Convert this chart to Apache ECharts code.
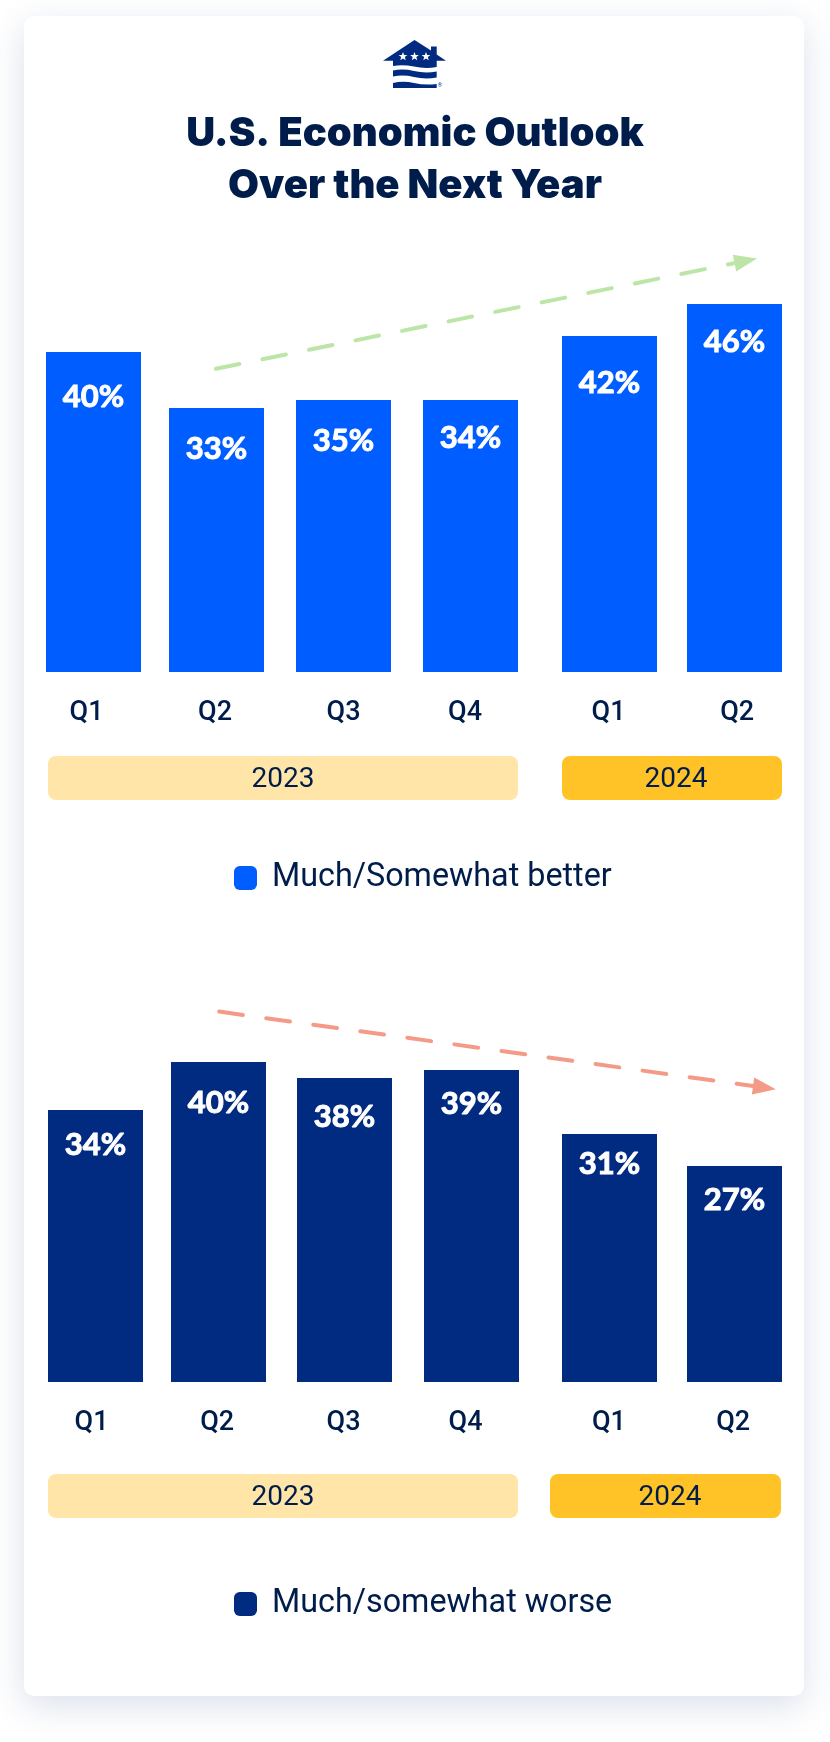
<!DOCTYPE html>
<html>
<head>
    <meta charset="utf-8">
    <title>U.S. Economic Outlook</title>
    <script src="https://cdn.jsdelivr.net/npm/echarts@6/dist/echarts.min.js"></script>
    <style>
        html, body { margin: 0; padding: 0; background: #fff; }
    </style>
</head>
<body>
    <div id="main" style="width: 830px;height:1742px;"></div>
    <script type="text/javascript">

// data
var quarters = ['Q1', 'Q2', 'Q3', 'Q4', 'Q1', 'Q2'];
var betterName = 'Much/Somewhat better';
var worseName = 'Much/somewhat worse';
// the Q3 2023 bar is drawn at 34 in the source although it is labelled 35%
var betterBars = [40, 33, 34, 34, 42, 46];
var betterLabels = ['40%', '33%', '35%', '34%', '42%', '46%'];
var worseBars = [34, 40, 38, 39, 31, 27];
var worseLabels = ['34%', '40%', '38%', '39%', '31%', '27%'];
var betterTrendX = [0.96, 5.1];
var betterTrendY = [37.9, 51.4];
var worseTrendX = [0.97, 5.23];
var worseTrendY = [46.3, 36.8];

// layout
var BAR_W = 95;
var SCALE = 8; // px per point, both charts
var INK = '#001c4a';
var LABEL_FONT = 'Roboto';
var HEAD_FONT = 'Inter';
var VALUE_FONT = 'Lato';

var panels = [
    {
        name: betterName, bars: betterBars, labels: betterLabels, color: '#005dff',
        base: 672, lefts: [46, 169, 296, 423, 562, 687],
        drops: [44, 40, 40, 37, 46, 37],
        tickShift: [-7, -1.5, 0, -5.5, -1, 2.7],
        trendX: betterTrendX, trendY: betterTrendY, trendColor: '#bde5a8', trendLeft: 29,
        pills: [
            { x: 48, w: 470, label: '2023', textX: 283, fill: '#ffe6a8' },
            { x: 562, w: 220, label: '2024', textX: 676, fill: '#ffc328' }
        ],
        pillTop: 756, legendTop: 862
    },
    {
        name: worseName, bars: worseBars, labels: worseLabels, color: '#002b80',
        base: 1382, lefts: [48, 171, 297, 424, 562, 687],
        drops: [34, 40, 38, 33, 29, 33],
        tickShift: [-4, -1.3, -1, -6, -0.6, -1.3],
        trendX: worseTrendX, trendY: worseTrendY, trendColor: '#f49b87', trendLeft: 31,
        pills: [
            { x: 48, w: 470, label: '2023', textX: 283, fill: '#ffe6a8' },
            { x: 550, w: 231, label: '2024', textX: 670, fill: '#ffc328' }
        ],
        pillTop: 1474, legendTop: 1588
    }
];

// house logo
echarts.graphic.registerShape('logoHouse', echarts.graphic.extendPath(
    'M414.5 40 L431 50.5 L431 46.5 L436.7 46.5 L436.7 54.5 L446 60.7 L436.7 60.7 L436.7 67 ' +
    'Q425 69 414 66.5 Q403 64.5 393 66 L393 60.7 L383 60.7 Z ' +
    'M393 70.5 Q403 68.5 414 71 Q425 73.5 436.7 71.5 L436.7 77.5 Q425 79.5 414 77 Q403 74.5 393 76.5 Z ' +
    'M393 83 Q403 80.5 414 83 Q425 85.5 436.7 84 L436.7 88 L393 88 Z'
));

var grids = [], xAxes = [], yAxes = [], seriesList = [], legends = [];
var graphics = [
    {
        type: 'rect', z: -1,
        shape: { x: 24, y: 16, width: 780, height: 1680, r: 10 },
        style: { fill: '#fff', shadowBlur: 34, shadowOffsetY: 10, shadowColor: 'rgba(30,60,130,0.16)' }
    },
    { type: 'logoHouse', style: { fill: '#002b80' } }
];

[403, 414.5, 426].forEach(function (x) {
    graphics.push({
        type: 'polygon',
        shape: { points: starPoints(x, 56.5, 4.6) },
        style: { fill: '#fff' }
    });
});
graphics.push({
    type: 'text', x: 438, y: 83.5,
    style: { text: '®', fontSize: 5, fill: '#002b80', fontFamily: LABEL_FONT }
});

function starPoints(cx, cy, r) {
    var pts = [];
    for (var i = 0; i < 10; i++) {
        var rad = i % 2 ? r * 0.42 : r;
        var a = -Math.PI / 2 + i * Math.PI / 5;
        pts.push([cx + rad * Math.cos(a), cy + rad * Math.sin(a)]);
    }
    return pts;
}

panels.forEach(function (p) {
    var maxVal = Math.max.apply(null, p.bars);

    // one narrow grid per bar, the quarters are not evenly spaced in the source
    p.bars.forEach(function (v, i) {
        var idx = grids.length;
        var shift = p.tickShift[i];
        grids.push({
            left: p.lefts[i], width: BAR_W,
            top: p.base - maxVal * SCALE, height: maxVal * SCALE
        });
        xAxes.push({
            type: 'category', gridIndex: idx, data: [quarters[i]],
            axisLine: { show: false }, axisTick: { show: false },
            axisLabel: {
                margin: 28, color: INK, fontFamily: LABEL_FONT, fontSize: 27, fontWeight: 500,
                interval: 0,
                padding: shift < 0 ? [0, -2 * shift, 0, 0] : [0, 0, 0, 2 * shift]
            }
        });
        yAxes.push({ type: 'value', gridIndex: idx, min: 0, max: maxVal, show: false });
        seriesList.push({
            type: 'bar', name: p.name, xAxisIndex: idx, yAxisIndex: idx,
            data: [v], barWidth: '100%',
            itemStyle: { color: p.color },
            label: {
                show: true, position: 'insideTop', distance: p.drops[i] - 15,
                formatter: p.labels[i], color: '#fff',
                fontFamily: VALUE_FONT, fontWeight: 700, fontSize: 31,
                textBorderColor: '#fff', textBorderWidth: 1
            },
            emphasis: { disabled: true }
        });
    });

    // trend arrow, on its own grid with the same vertical scale as the bars
    var t = grids.length;
    grids.push({ left: p.trendLeft, width: 768, top: p.base - 60 * SCALE, height: 60 * SCALE });
    xAxes.push({ type: 'value', gridIndex: t, min: -0.5, max: 5.5, show: false });
    yAxes.push({ type: 'value', gridIndex: t, min: 0, max: 60, show: false });
    seriesList.push({
        type: 'line', xAxisIndex: t, yAxisIndex: t, data: [], silent: true,
        markLine: {
            silent: true, animation: false,
            symbol: ['none', 'triangle'], symbolSize: [17, 23],
            label: { show: false },
            lineStyle: { color: p.trendColor, width: 4, type: [24, 23.5], cap: 'round', opacity: 1 },
            itemStyle: { color: p.trendColor },
            data: [[
                { coord: [p.trendX[0], p.trendY[0]] },
                { coord: [p.trendX[1], p.trendY[1]] }
            ]]
        }
    });

    legends.push({
        data: [p.name], left: 234, top: p.legendTop, padding: 0,
        icon: 'roundRect', itemWidth: 23, itemHeight: 24,
        selectedMode: false,
        textStyle: { color: INK, fontFamily: LABEL_FONT, fontSize: 32.3, padding: [0, 0, 0, 10] }
    });

    p.pills.forEach(function (pill) {
        graphics.push({
            type: 'rect',
            shape: { x: pill.x, y: p.pillTop, width: pill.w, height: 44, r: 8 },
            style: { fill: pill.fill }
        });
        graphics.push({
            type: 'text', x: pill.textX, y: p.pillTop + 24,
            style: {
                text: pill.label, fill: INK, fontFamily: LABEL_FONT, fontSize: 28,
                align: 'center', verticalAlign: 'middle'
            }
        });
    });
});

var myChart = echarts.init(document.getElementById('main'));
myChart.setOption({
    animation: false,
    title: {
        text: 'U.S. Economic Outlook\nOver the Next Year',
        left: 'center', top: 103,
        textStyle: {
            color: INK, fontFamily: HEAD_FONT, fontWeight: 900, fontSize: 40,
            lineHeight: 52, align: 'center'
        }
    },
    legend: legends,
    grid: grids,
    xAxis: xAxes,
    yAxis: yAxes,
    graphic: graphics,
    series: seriesList
});
    </script>
</body>
</html>
